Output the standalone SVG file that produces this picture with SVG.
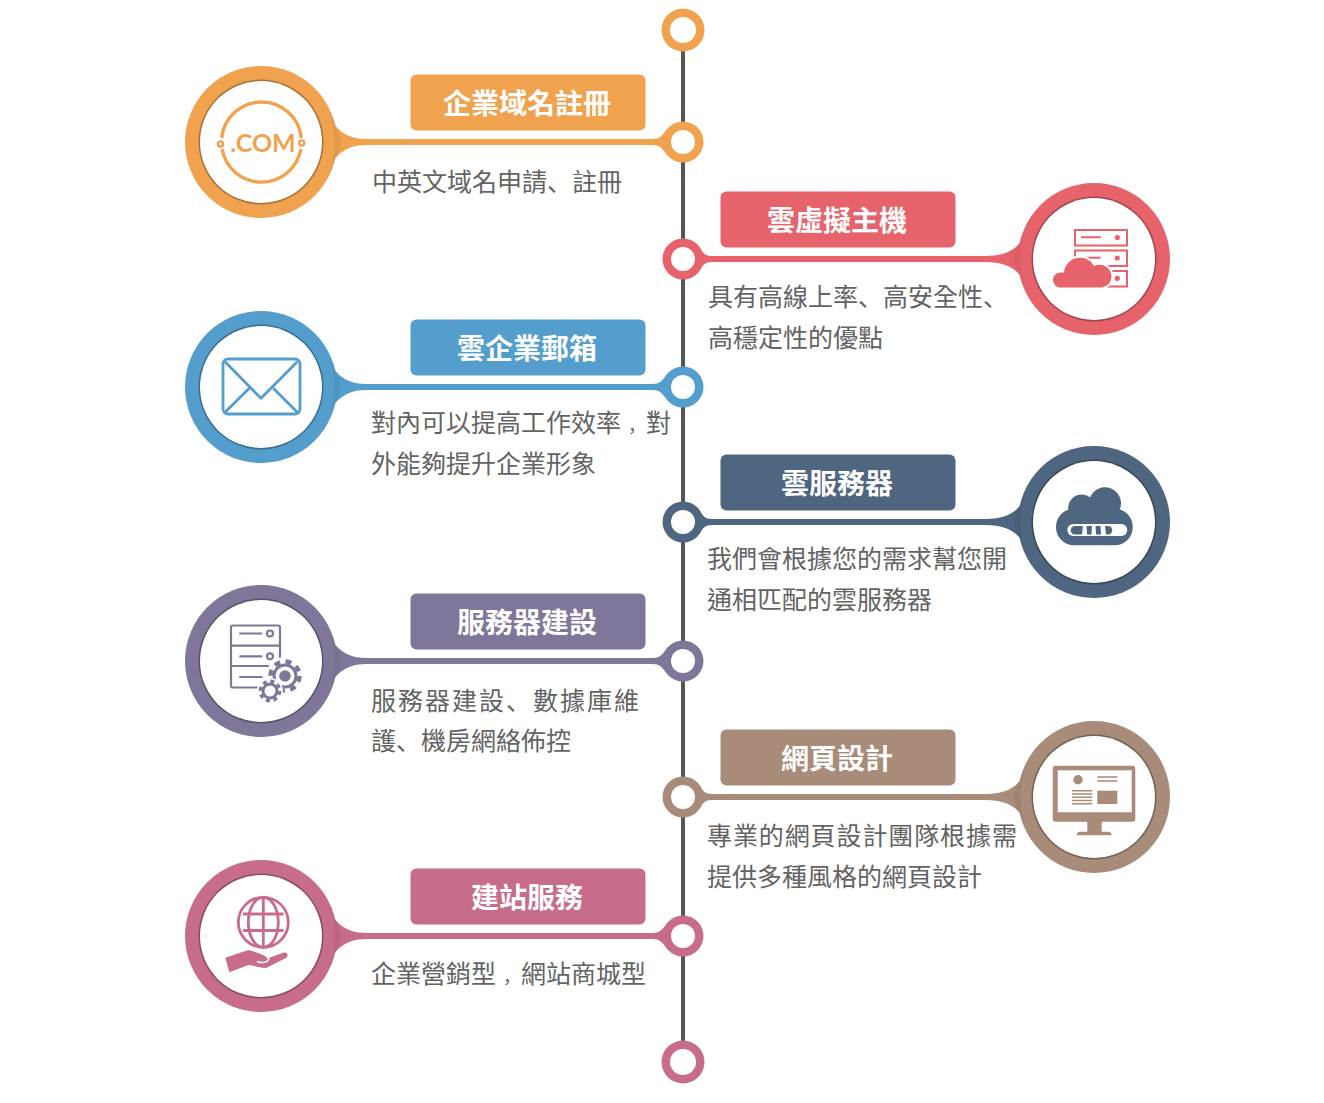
<svg xmlns="http://www.w3.org/2000/svg" width="1324" height="1103" viewBox="0 0 1324 1103">
<style>
text{font-family:"Noto Sans CJK TC","Noto Sans CJK SC",sans-serif}
.t{font-size:28px;font-weight:700;fill:#fff;text-anchor:middle}
.b{font-size:25px;fill:#636363}
.p{font-family:"Noto Sans CJK SC","Noto Sans CJK TC",sans-serif}
.c{font-family:"Noto Sans CJK SC","Noto Sans CJK TC",sans-serif;font-size:18px}
.edge{fill:#000;fill-opacity:.3}
.sh{fill:#000;fill-opacity:.05}
.orange{fill:#F0A24F}.red{fill:#E7636B}.blue{fill:#539ECD}.slate{fill:#4E667F}.purple{fill:#80769A}.brown{fill:#A88B78}.pink{fill:#C76C8B}
.hole{fill:#fff}
</style>
<defs>
<path id="ll" d="M327,-28C335,-14 345,-3 366,-3L652,-3C660,-3 662,-6 668,-14L668,14C662,6 660,3 652,3L366,3C345,3 335,14 327,28Z"/>
<path id="lr" d="M1028,-28C1020,-14 1012,-3 985,-3L712,-3C705,-3 703,-6 697,-14L697,14C703,6 705,3 712,3L985,3C1012,3 1020,14 1028,28Z"/>
<path id="shade" d="M68,-34C74,-20 79,-10 80,0C79,10 74,20 68,34C72,20 73,10 73.5,0C73,-10 72,-20 68,-34Z"/>
</defs>
<g id="connectors">
<rect x="681" y="40" width="4" height="1010" fill="#555"/>
<use href="#ll" y="142" class="orange"/>
<use href="#lr" y="259" class="red"/>
<use href="#ll" y="387" class="blue"/>
<use href="#lr" y="522" class="slate"/>
<use href="#ll" y="661" class="purple"/>
<use href="#lr" y="797" class="brown"/>
<use href="#ll" y="936" class="pink"/>
</g>
<g id="end-top"><circle cx="683" cy="30" r="21.5" class="orange"/><circle cx="683" cy="30" r="13" class="hole"/></g>
<g id="end-bottom"><circle cx="683" cy="1062" r="21.5" class="pink"/><circle cx="683" cy="1062" r="13" class="hole"/></g>

<g id="node-domain">
<circle cx="683" cy="142" r="20.5" class="orange"/><circle cx="683" cy="142" r="12" class="hole"/>
<circle cx="261" cy="142" r="76" class="orange"/><use href="#shade" transform="translate(261,142)" class="sh"/><circle cx="261" cy="142" r="62.5" class="edge"/><circle cx="261" cy="142" r="61" class="hole"/>
<rect x="410.500" y="74.500" width="235" height="56" rx="6" class="orange"/>
<text x="527" y="114" class="t">企業域名註冊</text>
<text x="372" y="191" class="b">中英文域名申請<tspan class="p">、</tspan>註冊</text>
<g fill="none" stroke="#F0A24F" stroke-width="3.4"><path d="M221.7,138A40,40 0 0 1 301.3,138"/><path d="M222.1,149A40,40 0 0 0 300.9,149"/></g>
<circle cx="220.500" cy="144" r="2.6" fill="#fff" stroke="#F0A24F" stroke-width="2.4"/><circle cx="301.700" cy="143" r="2.6" fill="#fff" stroke="#F0A24F" stroke-width="2.4"/>
<text x="263" y="152" font-size="25" font-weight="700" text-anchor="middle" fill="#F0A24F" style="font-family:Lato,sans-serif">.COM</text>
</g>

<g id="node-vm">
<circle cx="683" cy="259" r="20.5" class="red"/><circle cx="683" cy="259" r="12" class="hole"/>
<circle cx="1094" cy="259" r="76" class="red"/><use href="#shade" transform="translate(1094,259) scale(-1,1)" class="sh"/><circle cx="1094" cy="259" r="62.5" class="edge"/><circle cx="1094" cy="259" r="61" class="hole"/>
<rect x="720.500" y="191.500" width="235" height="56" rx="6" class="red"/>
<text x="837" y="231" class="t">雲虛擬主機</text>
<text x="708" y="306" class="b">具有高線上率<tspan class="p">、</tspan>高安全性<tspan class="p">、</tspan></text>
<text x="708" y="347" class="b">高穩定性的優點</text>
<g fill="none" stroke="#E7636B" stroke-width="2"><rect x="1075" y="230" width="52" height="15.5"/><rect x="1075" y="250.5" width="52" height="15.5"/><rect x="1075" y="271" width="52" height="15.5"/><path d="M1081,237.3H1100.7M1081,257.8H1100.7"/></g>
<g class="red"><circle cx="1117.3" cy="237.5" r="2.6"/><circle cx="1117.3" cy="258" r="2.6"/><circle cx="1117.3" cy="278.3" r="2.6"/></g>
<path class="red" stroke="#fff" stroke-width="4" paint-order="stroke" d="M1061,287.5A7.5,7.5 0 0 1 1060,272.500L1064,272.500A16,16 0 0 1 1094,266A12,12 0 0 1 1111.5,277A11,11 0 0 1 1102,287.5Z"/>
</g>

<g id="node-mail">
<circle cx="683" cy="387" r="20.5" class="blue"/><circle cx="683" cy="387" r="12" class="hole"/>
<circle cx="261" cy="387" r="76" class="blue"/><use href="#shade" transform="translate(261,387)" class="sh"/><circle cx="261" cy="387" r="62.5" class="edge"/><circle cx="261" cy="387" r="61" class="hole"/>
<rect x="410.500" y="319.500" width="235" height="56" rx="6" class="blue"/>
<text x="527" y="359" class="t">雲企業郵箱</text>
<text x="371" y="432" class="b">對內可以提高工作效率<tspan class="c" dx="7">，</tspan>對</text>
<text x="371" y="473" class="b">外能夠提升企業形象</text>
<g fill="none" stroke="#539ECD" stroke-width="2.8" stroke-linejoin="round"><rect x="223" y="359" width="77" height="55" rx="5"/><path d="M225,361.7L261,398.3L297.3,361.7M225,412.3L249.3,388.3M297.3,412.3L273.3,388.3"/></g>
</g>

<g id="node-cloud-server">
<circle cx="683" cy="522" r="20.5" class="slate"/><circle cx="683" cy="522" r="12" class="hole"/>
<circle cx="1094" cy="522" r="76" class="slate"/><use href="#shade" transform="translate(1094,522) scale(-1,1)" class="sh"/><circle cx="1094" cy="522" r="62.5" class="edge"/><circle cx="1094" cy="522" r="61" class="hole"/>
<rect x="720.500" y="454.500" width="235" height="56" rx="6" class="slate"/>
<text x="837" y="494" class="t">雲服務器</text>
<text x="707" y="568" class="b">我們會根據您的需求幫您開</text>
<text x="707" y="609" class="b">通相匹配的雲服務器</text>
<g class="slate"><circle cx="1081.7" cy="508" r="13.5"/><circle cx="1105" cy="503.3" r="16"/><rect x="1056" y="508.7" width="76.7" height="36.6" rx="18"/></g>
<rect x="1067.3" y="524" width="60" height="12" rx="6" class="hole"/>
<g class="slate"><path d="M1075,526H1083L1082,534.500H1075A4.2,4.2 0 0 1 1075,526Z"/><polygon points="1086.5,526 1092,526 1091.5,534.5 1087,534.5"/><polygon points="1095.5,526 1100.5,526 1101,534.5 1096,534.5"/><path d="M1105,526H1108A4.2,4.2 0 0 1 1108,534.5H1106Z"/></g>
</g>

<g id="node-build">
<circle cx="683" cy="661" r="20.5" class="purple"/><circle cx="683" cy="661" r="12" class="hole"/>
<circle cx="261" cy="661" r="76" class="purple"/><use href="#shade" transform="translate(261,661)" class="sh"/><circle cx="261" cy="661" r="62.5" class="edge"/><circle cx="261" cy="661" r="61" class="hole"/>
<rect x="410.500" y="593.500" width="235" height="56" rx="6" class="purple"/>
<text x="527" y="633" class="t">服務器建設</text>
<text x="371" y="710" class="b" style="letter-spacing:2px">服務器建設<tspan class="p">、</tspan>數據庫維</text>
<text x="371" y="750" class="b">護<tspan class="p">、</tspan>機房網絡佈控</text>
<g fill="none" stroke="#80769A" stroke-width="2.2"><rect x="231" y="625.5" width="49" height="62" rx="2"/><path d="M231,645.7H280M231,666H280"/><path d="M239.3,633.5H262.3M239.3,656.3H262.3M239.3,677H262.3"/><circle cx="270" cy="633.5" r="3"/><circle cx="270" cy="656.3" r="3"/></g>
<circle cx="285" cy="676" r="19" fill="#fff"/>
<g fill="none" stroke="#80769A"><circle cx="285" cy="676" r="11" stroke-width="3" fill="#fff"/><circle cx="285" cy="676" r="14.5" stroke-width="4.5" stroke-dasharray="6 5.4"/></g>
<circle cx="285" cy="676" r="5.8" class="purple"/>
<circle cx="270" cy="691" r="13" fill="#fff"/>
<g fill="none" stroke="#80769A"><circle cx="270" cy="691" r="7" stroke-width="3" fill="#fff"/><circle cx="270" cy="691" r="9.8" stroke-width="3.2" stroke-dasharray="4 3.7"/></g>
</g>

<g id="node-web">
<circle cx="683" cy="797" r="20.5" class="brown"/><circle cx="683" cy="797" r="12" class="hole"/>
<circle cx="1094" cy="797" r="76" class="brown"/><use href="#shade" transform="translate(1094,797) scale(-1,1)" class="sh"/><circle cx="1094" cy="797" r="62.5" class="edge"/><circle cx="1094" cy="797" r="61" class="hole"/>
<rect x="720.500" y="729.500" width="235" height="56" rx="6" class="brown"/>
<text x="837" y="769" class="t">網頁設計</text>
<text x="707" y="845" class="b" style="letter-spacing:.9px">專業的網頁設計團隊根據需</text>
<text x="707" y="886" class="b">提供多種風格的網頁設計</text>
<rect x="1052.7" y="765.7" width="82.6" height="56" rx="3" class="brown"/>
<rect x="1057.7" y="770.3" width="74" height="42" class="hole"/>
<path class="brown" d="M1087.3,821H1101.7V831.7H1108Q1111.7,832 1111.7,835.3H1076.7Q1076.7,832 1080,831.7H1087.3Z"/>
<circle cx="1078" cy="779.7" r="4.7" class="brown"/>
<rect x="1097.3" y="790.7" width="20" height="13.3" class="brown"/>
<path fill="none" stroke="#A88B78" stroke-width="1.5" d="M1097.3,777H1117.3M1097.3,781H1117.3M1072,790.7H1092.3M1072,794H1092.3M1072,797.2H1092.3M1072,800.4H1092.3M1072,803.7H1092.3"/>
</g>

<g id="node-service">
<circle cx="683" cy="936" r="20.5" class="pink"/><circle cx="683" cy="936" r="12" class="hole"/>
<circle cx="261" cy="936" r="76" class="pink"/><use href="#shade" transform="translate(261,936)" class="sh"/><circle cx="261" cy="936" r="62.5" class="edge"/><circle cx="261" cy="936" r="61" class="hole"/>
<rect x="410.500" y="868.500" width="235" height="56" rx="6" class="pink"/>
<text x="527" y="908" class="t">建站服務</text>
<text x="371" y="983" class="b">企業營銷型<tspan class="c" dx="7">，</tspan>網站商城型</text>
<g fill="none" stroke="#C76C8B" stroke-width="2.8"><circle cx="263.3" cy="922.3" r="25"/><ellipse cx="263.3" cy="922.3" rx="15" ry="25"/><path d="M263.3,897.3V947.3M243,914H283.6M243,930.5H283.6"/></g>
<path class="pink" d="M225.3,957.7L248.3,950C254,951 260,954 266,956.5L267,958.5L284,952.6C288,952 288.5,956.5 286,958L266,968C259,968 254,965.5 248.3,965L229.3,972.3Z"/>
<path fill="none" stroke="#fff" stroke-width="1.5" d="M257,961.5C262,963.5 268,963 269,958"/>
</g>
</svg>
